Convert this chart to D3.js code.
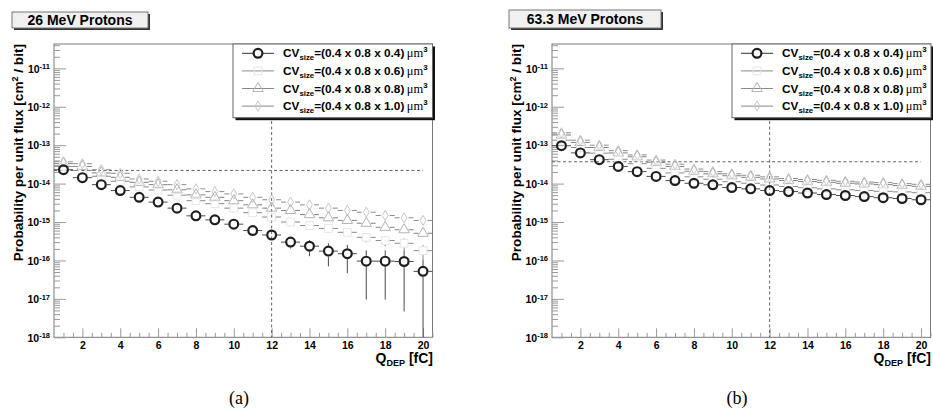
<!DOCTYPE html>
<html>
<head>
<meta charset="utf-8">
<script src="https://cdn.jsdelivr.net/npm/d3@7"></script>
<style>
  body { margin: 0; background: #fff; }
  svg text { font-family: "Liberation Sans", Arial, Helvetica, sans-serif; font-weight: bold; fill: #000; }
</style>
</head>
<body>
<svg id="chart" width="933" height="412"></svg>
<script>
// Deposited-charge bins (fC)
const charge = [1, 2, 3, 4, 5, 6, 7, 8, 9, 10, 11, 12, 13, 14, 15, 16, 17, 18, 19, 20];
const xTickValues = [2, 4, 6, 8, 10, 12, 14, 16, 18, 20];
const yDecadeExponents = [-18, -17, -16, -15, -14, -13, -12, -11];
const cvDepths = ["0.4", "0.6", "0.8", "1.0"];

// 26 MeV protons: probability per unit flux [cm^2 / bit]
const p26_d04 = [2.3e-14, 1.43e-14, 9.4e-15, 6.6e-15, 4.4e-15, 3.3e-15, 2.3e-15, 1.45e-15, 1.14e-15, 8.8e-16,
                 6.0e-16, 4.6e-16, 3.0e-16, 2.35e-16, 1.75e-16, 1.5e-16, 9.6e-17, 9.6e-17, 9.4e-17, 5.2e-17];
const p26_d06 = [2.8e-14, 2.2e-14, 1.55e-14, 1.15e-14, 8.2e-15, 6.8e-15, 5.0e-15, 3.6e-15, 3.0e-15, 2.3e-15,
                 1.75e-15, 1.35e-15, 1.0e-15, 8.1e-16, 6.8e-16, 5.4e-16, 4.0e-16, 3.3e-16, 2.8e-16, 1.8e-16];
const p26_d08 = [3.3e-14, 2.8e-14, 1.9e-14, 1.46e-14, 1.08e-14, 9.4e-15, 6.9e-15, 5.1e-15, 4.4e-15, 3.6e-15,
                 2.8e-15, 2.3e-15, 2.0e-15, 1.56e-15, 1.29e-15, 1.1e-15, 9.3e-16, 7.3e-16, 6.3e-16, 5.1e-16];
const p26_d10 = [3.7e-14, 3.3e-14, 2.3e-14, 1.85e-14, 1.32e-14, 1.15e-14, 9.4e-15, 7.3e-15, 6.2e-15, 5.4e-15,
                 4.4e-15, 3.8e-15, 3.3e-15, 2.8e-15, 2.3e-15, 2.0e-15, 1.8e-15, 1.48e-15, 1.29e-15, 1.1e-15];

// 26 MeV protons: relative statistical errors
const e26_d04 = [0.04, 0.05, 0.05, 0.06, 0.07, 0.08, 0.09, 0.11, 0.12, 0.14,
                 0.18, 0.22, 0.32, 0.45, 0.60, 0.69, 0.90, 0.90, 0.95, 1.05];
const e26_d06 = [0.03, 0.04, 0.04, 0.05, 0.06, 0.06, 0.07, 0.08, 0.09, 0.10,
                 0.12, 0.13, 0.15, 0.17, 0.20, 0.22, 0.26, 0.30, 0.34, 0.40];
const e26_d08 = [0.03, 0.03, 0.04, 0.04, 0.05, 0.05, 0.06, 0.07, 0.07, 0.08,
                 0.09, 0.10, 0.11, 0.13, 0.14, 0.16, 0.18, 0.20, 0.22, 0.25];
const e26_d10 = [0.03, 0.03, 0.03, 0.04, 0.04, 0.05, 0.05, 0.06, 0.06, 0.07,
                 0.07, 0.08, 0.09, 0.10, 0.11, 0.12, 0.13, 0.14, 0.15, 0.17];

// 63.3 MeV protons: probability per unit flux [cm^2 / bit]
const p63_d04 = [9.7e-14, 6.3e-14, 4.2e-14, 2.8e-14, 2.05e-14, 1.54e-14, 1.2e-14, 1.02e-14, 9.3e-15, 7.9e-15,
                 7.3e-15, 6.6e-15, 6.2e-15, 5.7e-15, 5.2e-15, 4.9e-15, 4.6e-15, 4.3e-15, 4.1e-15, 3.8e-15];
const p63_d06 = [1.35e-13, 8.7e-14, 6.2e-14, 4.3e-14, 3.3e-14, 2.5e-14, 1.9e-14, 1.5e-14, 1.3e-14, 1.12e-14,
                 1.02e-14, 9.2e-15, 8.4e-15, 7.8e-15, 7.3e-15, 6.9e-15, 6.6e-15, 6.3e-15, 6.1e-15, 5.8e-15];
const p63_d08 = [1.84e-13, 1.18e-13, 8.7e-14, 6.3e-14, 5.0e-14, 3.6e-14, 2.8e-14, 2.1e-14, 1.8e-14, 1.6e-14,
                 1.46e-14, 1.32e-14, 1.2e-14, 1.13e-14, 1.08e-14, 1.02e-14, 9.8e-15, 9.4e-15, 8.9e-15, 8.5e-15];
const p63_d10 = [2.1e-13, 1.35e-13, 1.0e-13, 7.2e-14, 5.6e-14, 4.1e-14, 3.2e-14, 2.4e-14, 2.05e-14, 1.8e-14,
                 1.65e-14, 1.5e-14, 1.36e-14, 1.28e-14, 1.22e-14, 1.15e-14, 1.1e-14, 1.06e-14, 1.0e-14, 9.6e-15];

// 63.3 MeV protons: relative statistical errors
const e63_d04 = [0.02, 0.02, 0.03, 0.03, 0.03, 0.04, 0.04, 0.04, 0.05, 0.05,
                 0.05, 0.05, 0.05, 0.06, 0.06, 0.06, 0.06, 0.06, 0.06, 0.07];
const e63_d06 = [0.02, 0.02, 0.02, 0.03, 0.03, 0.03, 0.03, 0.04, 0.04, 0.04,
                 0.04, 0.04, 0.05, 0.05, 0.05, 0.05, 0.05, 0.05, 0.05, 0.05];
const e63_d08 = [0.02, 0.02, 0.02, 0.02, 0.03, 0.03, 0.03, 0.03, 0.03, 0.04,
                 0.04, 0.04, 0.04, 0.04, 0.04, 0.04, 0.04, 0.05, 0.05, 0.05];
const e63_d10 = [0.02, 0.02, 0.02, 0.02, 0.02, 0.03, 0.03, 0.03, 0.03, 0.03,
                 0.03, 0.03, 0.04, 0.04, 0.04, 0.04, 0.04, 0.04, 0.04, 0.04];

// Threshold guide lines: critical charge (fC) and reference level per panel
const qCritical = 12;
const refLevel26 = 2.2e-14;
const refLevel63 = 3.7e-14;

// ---------------------------------------------------------------------------
const svg = d3.select("#chart");

const markerStyles = [
  { shape: "circle",   stroke: "#1e1e1e", width: 2.2, bar: "#4a4a4a", half: 5.3 },
  { shape: "square",   stroke: "#e6e6e6", width: 1,   bar: "#8a8a8a", half: 4.0 },
  { shape: "triangle", stroke: "#b4b4b4", width: 1,   bar: "#808080", half: 4.5 },
  { shape: "diamond",  stroke: "#c8c8c8", width: 1,   bar: "#8c8c8c", half: 4.5 }
];

function markerPath(shape) {
  if (shape === "square") return d3.symbol(d3.symbolSquare, 60)();
  if (shape === "triangle") return d3.symbol(d3.symbolTriangle, 48)();
  if (shape === "diamond") return d3.symbol(d3.symbolDiamond, 30)();
  return null;
}

function drawMarker(g, style, cx, cy) {
  if (style.shape === "circle") {
    g.append("circle").attr("cx", cx).attr("cy", cy).attr("r", 4.4)
      .attr("fill", "none").attr("stroke", style.stroke).attr("stroke-width", style.width);
  } else {
    g.append("path").attr("d", markerPath(style.shape))
      .attr("transform", `translate(${cx},${cy})`)
      .attr("fill", "none").attr("stroke", style.stroke).attr("stroke-width", style.width);
  }
}

function drawPanel(cfg) {
  const x0 = cfg.left, x1 = cfg.left + 378.5, y0 = 44, y1 = 337.3;
  const yMin = 1e-18, yMax = 4.3e-11;
  const x = d3.scaleLinear().domain([0.5, 20.5]).range([x0, x1]);
  const y = d3.scaleLog().domain([yMin, yMax]).range([y1, y0]);
  const g = svg.append("g");

  // Frame
  g.append("rect").attr("x", x0).attr("y", y0).attr("width", x1 - x0).attr("height", y1 - y0)
    .attr("fill", "#fff").attr("stroke", "#7a7a7a").attr("stroke-width", 1);

  // Y axis: decade ticks with labels, minor ticks at 2..9
  const majors = yDecadeExponents.map(e => Math.pow(10, e));
  const minors = [];
  yDecadeExponents.forEach(e => { for (let m = 2; m <= 9; m++) { const v = m * Math.pow(10, e); if (v < yMax) minors.push(v); } });

  const yMinorAxis = d3.axisLeft(y).tickValues(minors).tickSizeInner(-6).tickSizeOuter(0).tickFormat("");
  g.append("g").attr("transform", `translate(${x0},0)`).call(yMinorAxis)
    .call(s => s.select(".domain").remove())
    .call(s => s.selectAll("line").attr("stroke", "#9a9a9a"));

  const yMajorAxis = d3.axisLeft(y).tickValues(majors).tickSizeInner(-12).tickSizeOuter(0).tickPadding(4)
    .tickFormat(d => String(Math.round(Math.log10(d))));
  const ya = g.append("g").attr("transform", `translate(${x0},0)`).call(yMajorAxis);
  ya.select(".domain").remove();
  ya.selectAll("line").attr("stroke", "#9a9a9a");
  ya.selectAll("text").each(function () {
    const t = d3.select(this);
    const exp = t.text();
    t.text(null).attr("font-size", 10.5).attr("dy", "0.36em")
      .style("font-family", '"Liberation Sans", Arial, sans-serif').style("font-weight", "bold");
    t.append("tspan").text("10");
    t.append("tspan").attr("dy", "-0.45em").attr("font-size", 7.5).text(exp);
  });

  // X axis: labelled even ticks, minor ticks every half unit
  const xMinor = d3.range(1, 20.51, 0.5).filter(v => xTickValues.indexOf(v) < 0);
  g.append("g").attr("transform", `translate(0,${y1})`)
    .call(d3.axisBottom(x).tickValues(xMinor).tickSizeInner(-4.5).tickSizeOuter(0).tickFormat(""))
    .call(s => s.select(".domain").remove())
    .call(s => s.selectAll("line").attr("stroke", "#9a9a9a"));
  const xa = g.append("g").attr("transform", `translate(0,${y1})`)
    .call(d3.axisBottom(x).tickValues(xTickValues).tickSizeInner(-9).tickSizeOuter(0).tickPadding(4));
  xa.select(".domain").remove();
  xa.selectAll("line").attr("stroke", "#9a9a9a");
  xa.selectAll("text").attr("font-size", 10.5).attr("dy", "0.7em")
    .style("font-family", '"Liberation Sans", Arial, sans-serif').style("font-weight", "bold");

  // Guide lines
  g.append("line").attr("x1", x(qCritical)).attr("x2", x(qCritical)).attr("y1", y0).attr("y2", y1)
    .attr("stroke", "#555").attr("stroke-width", 0.9).attr("stroke-dasharray", "3,2.5");
  g.append("line").attr("x1", x0).attr("x2", x(20)).attr("y1", y(cfg.refLevel)).attr("y2", y(cfg.refLevel))
    .attr("stroke", "#555").attr("stroke-width", 0.9).attr("stroke-dasharray", "3,2.5");

  // Series: drawn from the largest volume down so the smallest sits on top
  const order = [3, 2, 1, 0];
  order.forEach(si => {
    const st = markerStyles[si];
    const vals = cfg.series[si], errs = cfg.errors[si];
    const sg = g.append("g");
    charge.forEach((q, i) => {
      const v = vals[i], cx = x(q), cy = y(v);
      const hi = v * (1 + errs[i]);
      const lo = Math.max(v * (1 - errs[i]), yMin);
      const yHi = y(hi), yLo = lo <= yMin ? y1 : y(lo);
      const gap = st.half;
      // horizontal bin-width bars
      sg.append("line").attr("x1", x(q - 0.5)).attr("x2", cx - gap).attr("y1", cy).attr("y2", cy)
        .attr("stroke", st.bar).attr("stroke-width", 1);
      sg.append("line").attr("x1", cx + gap).attr("x2", x(q + 0.5)).attr("y1", cy).attr("y2", cy)
        .attr("stroke", st.bar).attr("stroke-width", 1);
      // vertical error bars
      if (cy - gap > yHi) sg.append("line").attr("x1", cx).attr("x2", cx).attr("y1", cy - gap).attr("y2", yHi)
        .attr("stroke", st.bar).attr("stroke-width", 1);
      if (yLo > cy + gap) sg.append("line").attr("x1", cx).attr("x2", cx).attr("y1", cy + gap).attr("y2", yLo)
        .attr("stroke", st.bar).attr("stroke-width", 1);
      drawMarker(sg, st, cx, cy);
    });
  });

  // Legend
  const lx = cfg.legend.x, ly = y0, lw = cfg.legend.w, lh = 73.7;
  g.append("rect").attr("x", lx + 2.5).attr("y", ly + 2.5).attr("width", lw).attr("height", lh).attr("fill", "#111");
  g.append("rect").attr("x", lx).attr("y", ly).attr("width", lw).attr("height", lh)
    .attr("fill", "#fff").attr("stroke", "#666").attr("stroke-width", 1);
  cvDepths.forEach((dep, k) => {
    const st = markerStyles[k];
    const ry = ly + 9.3 + k * 17.6;
    const lineX1 = lx + 9, lineX2 = lx + 41, mx = lx + 25;
    g.append("line").attr("x1", lineX1).attr("x2", lineX2).attr("y1", ry).attr("y2", ry)
      .attr("stroke", k === 0 ? "#333" : "#8a8a8a").attr("stroke-width", 1);
    if (k === 0) {
      g.append("rect").attr("x", mx - 4.5).attr("y", ry - 4.5).attr("width", 9).attr("height", 9).attr("fill", "#fff");
    }
    drawMarker(g, st, mx, ry);
    const t = g.append("text").attr("x", lx + 50).attr("y", ry + 4).attr("font-size", 11.8);
    t.append("tspan").text("CV");
    t.append("tspan").attr("font-size", 7.8).attr("dy", 3).text("size");
    t.append("tspan").attr("dy", -3).text(`=(0.4 x 0.8 x ${dep})`);
    t.append("tspan").style("font-family", '"Liberation Serif", "Times New Roman", serif')
      .style("font-weight", "normal").attr("font-size", 12.5).text("\u2009\u03bcm");
    t.append("tspan").attr("font-size", 7.8).attr("dy", -5).text("3");
  });

  // Title box
  const tb = cfg.titleBox;
  g.append("rect").attr("x", tb.x + 2).attr("y", tb.y + 2).attr("width", tb.w).attr("height", tb.h).attr("fill", "#333");
  g.append("rect").attr("x", tb.x).attr("y", tb.y).attr("width", tb.w).attr("height", tb.h)
    .attr("fill", "#f0f0f0").attr("stroke", "#777").attr("stroke-width", 1);
  g.append("text").attr("x", tb.x + tb.w / 2).attr("y", tb.y + tb.h / 2 + 5).attr("text-anchor", "middle")
    .attr("font-size", 14).text(cfg.title);

  // Axis titles
  const yt = g.append("text").attr("transform", `translate(${x0 - 36},${y0}) rotate(-90)`)
    .attr("text-anchor", "end").attr("dy", "0.35em").attr("font-size", 13.6);
  yt.append("tspan").text("Probability per unit flux [cm");
  yt.append("tspan").attr("font-size", 9).attr("dy", -5).text("2");
  yt.append("tspan").attr("dy", 5).text(" / bit]");

  const xt = g.append("text").attr("x", x1 + 0.5).attr("y", 363).attr("text-anchor", "end").attr("font-size", 14);
  xt.append("tspan").text("Q");
  xt.append("tspan").attr("font-size", 9).attr("dy", 3).text("DEP");
  xt.append("tspan").attr("dy", -3).text(" [fC]");

  // Sub-figure caption
  g.append("text").attr("x", cfg.captionX).attr("y", 404).attr("text-anchor", "middle")
    .style("font-family", '"Liberation Serif", "Times New Roman", serif').style("font-weight", "normal")
    .attr("font-size", 18).text(cfg.caption);
}

drawPanel({
  left: 54, title: "26 MeV Protons", titleBox: { x: 12, y: 12, w: 136, h: 16 },
  legend: { x: 233, w: 199.5 }, refLevel: refLevel26, caption: "(a)", captionX: 239,
  series: [p26_d04, p26_d06, p26_d08, p26_d10], errors: [e26_d04, e26_d06, e26_d08, e26_d10]
});
drawPanel({
  left: 552, title: "63.3 MeV Protons", titleBox: { x: 509, y: 10, w: 152, h: 18 },
  legend: { x: 732, w: 199 }, refLevel: refLevel63, caption: "(b)", captionX: 737,
  series: [p63_d04, p63_d06, p63_d08, p63_d10], errors: [e63_d04, e63_d06, e63_d08, e63_d10]
});
</script>
</body>
</html>
